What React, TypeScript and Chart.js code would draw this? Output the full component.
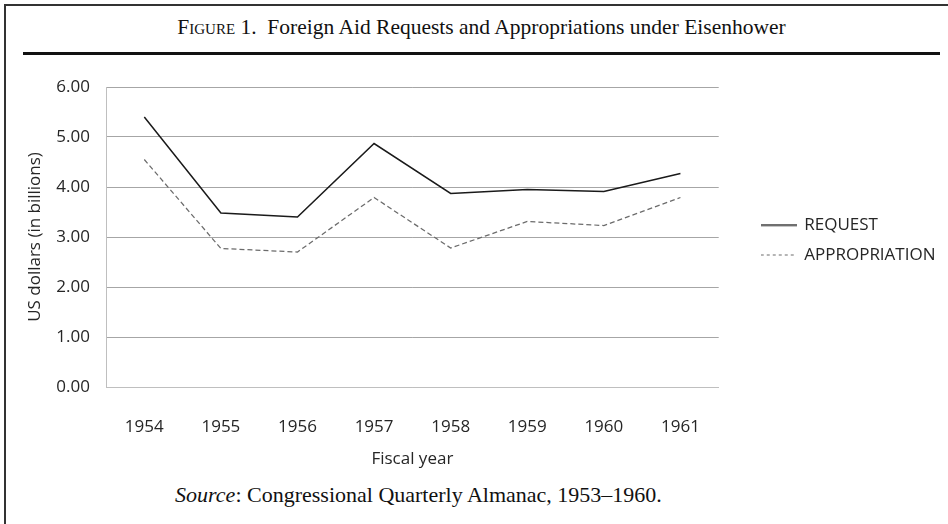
import React, { useEffect, useRef } from "react";
import { Chart, registerables } from "chart.js";

Chart.register(...registerables);

const years = ["1954", "1955", "1956", "1957", "1958", "1959", "1960", "1961"];
const request = [5.4, 3.48, 3.4, 4.87, 3.87, 3.95, 3.91, 4.27];
const appropriation = [4.55, 2.77, 2.7, 3.79, 2.78, 3.31, 3.23, 3.79];
const seriesNames = ["REQUEST", "APPROPRIATION"];
const yMin = 0;
const yMax = 6;
const yStep = 1;

const SANS = "'Open Sans', 'Noto Sans', sans-serif";
const SERIF = "'Liberation Serif', 'Times New Roman', serif";
const TEXT = "#262626";

function lineSwatch(color: string, width: number, dash: number[]): HTMLCanvasElement {
  const c = document.createElement("canvas");
  c.width = 36;
  c.height = 3;
  const g = c.getContext("2d");
  if (g) {
    g.strokeStyle = color;
    g.lineWidth = width;
    g.setLineDash(dash);
    g.beginPath();
    g.moveTo(0, 1.5);
    g.lineTo(36, 1.5);
    g.stroke();
  }
  return c;
}

export default function App() {
  const canvasRef = useRef<HTMLCanvasElement | null>(null);

  useEffect(() => {
    const canvas = canvasRef.current;
    if (!canvas) return;
    const reqSwatch = lineSwatch("#1a1a1a", 1.5, []);
    const appSwatch = lineSwatch("#6b6b6b", 1, [3, 3]);
    const chart = new Chart(canvas, {
      type: "line",
      data: {
        labels: years,
        datasets: [
          {
            label: seriesNames[0],
            data: request,
            borderColor: "#1a1a1a",
            backgroundColor: "#1a1a1a",
            borderWidth: 1.5,
            pointRadius: 0,
            pointStyle: reqSwatch as any,
            tension: 0,
            yAxisID: "y",
          },
          {
            label: seriesNames[1],
            data: appropriation,
            borderColor: "#6b6b6b",
            backgroundColor: "#6b6b6b",
            borderWidth: 1.25,
            borderDash: [5, 3],
            pointRadius: 0,
            pointStyle: appSwatch as any,
            tension: 0,
            yAxisID: "y",
          },
        ],
      },
      options: {
        responsive: false,
        animation: false,
        devicePixelRatio: 1,
        layout: { padding: { top: 27, left: 0, right: 2.5, bottom: 0 } },
        plugins: {
          tooltip: { enabled: false },
          legend: {
            position: "right",
            fullSize: false,
            maxWidth: 300,
            title: {
              display: true,
              text: "",
              padding: 0,
              font: { size: 6, lineHeight: 1 },
            },
            labels: {
              usePointStyle: true,
              pointStyleWidth: 34,
              padding: 13,
              color: TEXT,
              font: { family: SANS, size: 17 },
            },
          },
        },
        scales: {
          x: {
            type: "category",
            offset: true,
            grid: { display: false },
            border: { display: true, color: "#bfbfbf", width: 1 },
            ticks: {
              color: TEXT,
              font: { family: SANS, size: 17 },
              padding: 22,
              maxRotation: 0,
              autoSkip: false,
            },
            title: {
              display: true,
              text: "Fiscal year",
              color: TEXT,
              font: { family: SANS, size: 17 },
              padding: { top: 0, bottom: 11 },
            },
            afterFit: (s: any) => {
              s.height = 93;
            },
          },
          y: {
            type: "linear",
            min: yMin,
            max: yMax,
            grid: {
              drawTicks: false,
              color: (ctx: any) => (ctx.tick && ctx.tick.value === 0 ? "#bfbfbf" : "#a6a6a6"),
            },
            border: { display: true, color: "#bfbfbf", width: 1 },
            ticks: {
              stepSize: yStep,
              padding: 16,
              color: TEXT,
              font: { family: SANS, size: 17 },
              callback: (v: any) => Number(v).toFixed(2),
            },
            title: {
              display: true,
              text: "US dollars (in billions)",
              color: TEXT,
              font: { family: SANS, size: 17 },
              padding: { top: 25, bottom: 0 },
            },
            afterFit: (s: any) => {
              s.width = 106;
            },
          },
          yPad: {
            type: "linear",
            position: "right",
            display: true,
            grid: { display: false },
            border: { display: false },
            ticks: { display: false },
            afterFit: (s: any) => {
              s.width = 30;
            },
          },
        },
      },
    });
    return () => chart.destroy();
  }, []);

  return (
    <div
      style={{
        position: "absolute",
        left: 0,
        top: 0,
        width: 948,
        height: 524,
        background: "#ffffff",
        overflow: "hidden",
      }}
    >
      <div style={{ position: "absolute", left: 4, top: 4, width: 944, height: 1.5, background: "#333" }} />
      <div style={{ position: "absolute", left: 4, top: 4, width: 1.5, height: 520, background: "#333" }} />
      <div
        style={{
          position: "absolute",
          left: 15,
          top: 17,
          width: 933,
          textAlign: "center",
          fontFamily: SERIF,
          fontSize: 21.5,
          lineHeight: "21.5px",
          color: "#111",
          whiteSpace: "nowrap",
        }}
      >
        <span style={{ fontVariant: "small-caps" }}>Figure</span> 1.&nbsp; Foreign Aid Requests and Appropriations under Eisenhower
      </div>
      <div style={{ position: "absolute", left: 23, top: 52, width: 917, height: 3, background: "#111" }} />
      <canvas
        ref={canvasRef}
        width={948}
        height={420}
        style={{ position: "absolute", left: 0, top: 60, width: 948, height: 420 }}
      />
      <div
        style={{
          position: "absolute",
          left: 0,
          top: 483.5,
          width: 837,
          textAlign: "center",
          fontFamily: SERIF,
          fontSize: 22,
          lineHeight: "22px",
          color: "#111",
          whiteSpace: "nowrap",
        }}
      >
        <i>Source</i>: Congressional Quarterly Almanac, 1953–1960.
      </div>
    </div>
  );
}
